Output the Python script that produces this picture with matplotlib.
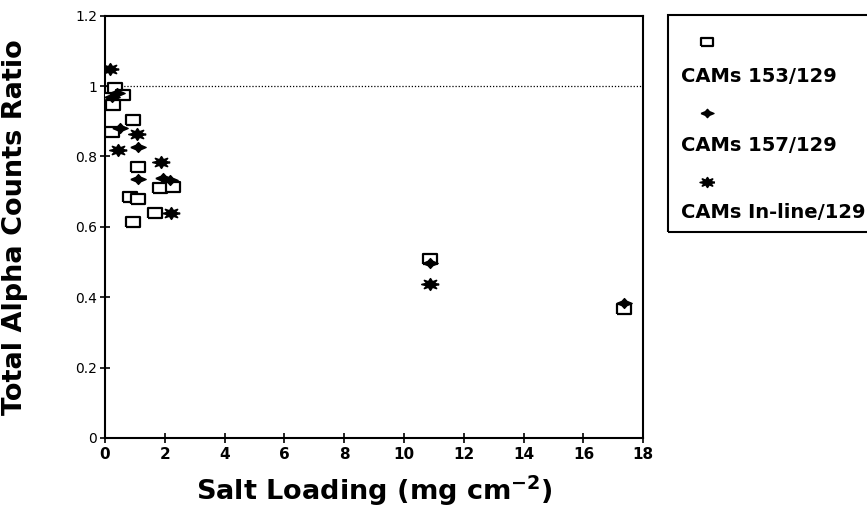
import matplotlib
matplotlib.use("Agg")
import matplotlib.pyplot as plt
from matplotlib.lines import Line2D
from matplotlib.patches import Rectangle

# ----------------- DATA -----------------
# CAMs 153/129 (open squares)
x_153 = [0.10, 0.33, 0.60, 0.27, 0.23, 0.94, 1.10, 1.85, 2.28, 0.84, 1.10, 1.68, 0.94, 10.87, 17.35]
y_153 = [0.966, 0.994, 0.974, 0.946, 0.870, 0.903, 0.770, 0.710, 0.713, 0.685, 0.678, 0.639, 0.614, 0.509, 0.366]

# CAMs 157/129 (filled crosses)
x_157 = [0.23, 0.40, 0.50, 1.10, 1.10, 1.95, 2.18, 10.87, 17.35]
y_157 = [0.970, 0.980, 0.880, 0.827, 0.736, 0.738, 0.733, 0.497, 0.383]

# CAMs In-line/129 (stars)
x_inl = [0.17, 1.07, 0.44, 1.88, 2.20, 10.87]
y_inl = [1.050, 0.864, 0.818, 0.784, 0.639, 0.437]

labels = ["CAMs 153/129", "CAMs 157/129", "CAMs In-line/129"]
x_ticks = [0, 2, 4, 6, 8, 10, 12, 14, 16, 18]
y_ticks = [0, 0.2, 0.4, 0.6, 0.8, 1.0, 1.2]
ref_level = 1.0

# -------------- MARKERS -----------------
RECT = [(-1.35, -1), (1.35, -1), (1.35, 1), (-1.35, 1), (-1.35, -1)]
CROSS = [(-1.4, 0), (-0.45, 0.4), (0, 0.9), (0.45, 0.4), (1.4, 0),
         (0.45, -0.4), (0, -0.9), (-0.45, -0.4), (-1.4, 0)]
# wide 8-spike asterisk blob
STAR = [(1.5, 0), (0.6, 0.2), (1.05, 0.7), (0.35, 0.45), (0, 1.0),
        (-0.35, 0.45), (-1.05, 0.7), (-0.6, 0.2), (-1.5, 0), (-0.6, -0.2),
        (-1.05, -0.7), (-0.35, -0.45), (0, -1.0), (0.35, -0.45),
        (1.05, -0.7), (0.6, -0.2), (1.5, 0)]

styles = [
    dict(marker=RECT, ms=9.5, mfc="white", mec="black", mew=1.6),
    dict(marker=CROSS, ms=11, mfc="black", mec="black", mew=1.0),
    dict(marker=STAR, ms=12.5, mfc="black", mec="black", mew=1.2),
]

fig = plt.figure(figsize=(8.67, 5.08), dpi=100)
ax = fig.add_axes([0.121, 0.138, 0.621, 0.831])

ax.axhline(ref_level, color="black", lw=0.9, ls=(0, (1, 1.5)), zorder=1)

series = [(x_153, y_153), (x_157, y_157), (x_inl, y_inl)]
for (xs, ys), st in zip(series, styles):
    ax.plot(xs, ys, ls="none", zorder=3, **st)

ax.set_xlim(0, 18)
ax.set_ylim(0, 1.2)
ax.set_xticks(x_ticks)
ax.set_yticks(y_ticks)
ax.set_yticklabels(["%g" % v for v in y_ticks])
ax.tick_params(direction="inout", length=7, width=1.2)
ax.tick_params(axis="x", labelsize=11, pad=3)
ax.tick_params(axis="y", labelsize=10, pad=2)
for lab in ax.get_xticklabels():
    lab.set_fontweight("bold")
for sp in ax.spines.values():
    sp.set_linewidth(1.5)

ax.set_xlabel("Salt Loading (mg cm$^{\\mathbf{-2}}$)", fontsize=19.5,
              fontweight="heavy", labelpad=8)
ax.set_ylabel("Total Alpha Counts Ratio", fontsize=19.5, fontweight="heavy",
              labelpad=34)

# ---- legend box, drawn by hand (marker above label) ----
W, H = 867.0, 508.0
fig.patches.append(Rectangle((668 / W, 1 - 232 / H), 210 / W, 217 / H,
                             transform=fig.transFigure, fill=False,
                             lw=1.5, ec="black", clip_on=False))
rows = [(42, 77), (113, 146), (182, 213)]
for (my, ty), st, lab in zip(rows, styles, labels):
    fig.lines.append(Line2D([707 / W], [1 - my / H], transform=fig.transFigure,
                            ls="none", **dict(st, ms=st["ms"] * 0.85)))
    fig.text(681 / W, 1 - ty / H, lab, fontsize=14, fontweight="bold",
             va="center", ha="left")

fig.savefig("out.png", dpi=100)
